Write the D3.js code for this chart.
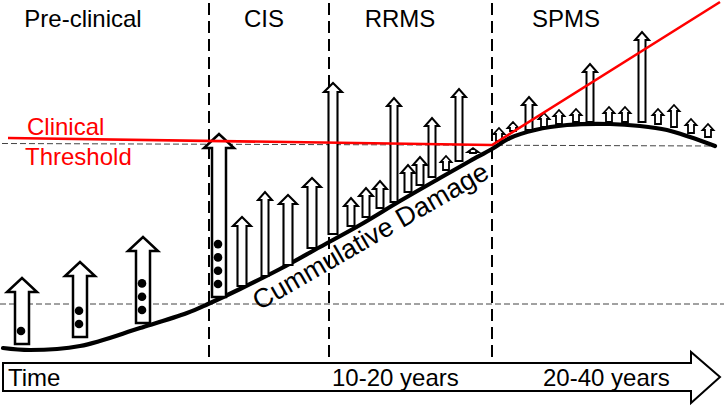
<!DOCTYPE html>
<html>
<head>
<meta charset="utf-8">
<script src="https://cdn.jsdelivr.net/npm/d3@7"></script>
<style>
  html, body { margin: 0; padding: 0; background: #fff; }
  svg { display: block; font-family: "Liberation Sans", Arial, sans-serif; }
</style>
</head>
<body>
<svg id="chart" width="724" height="406"></svg>
<script>
// ---------------- DATA ----------------
// Phases (time units) and names
const phaseNames = ["Pre-clinical", "CIS", "RRMS", "SPMS"];
const phaseBounds = [209, 329, 492];           // phase boundaries on the time axis
const phaseLabelT = [83, 264, 400, 566];       // where each phase name is centred

// Cumulative damage curve (time, damage level)
const damageT     = [3, 30, 80, 140, 187, 208, 240, 280, 320, 360, 400, 440, 470, 492, 510, 535, 567, 610, 640, 667, 690, 715];
const damageLevel = [2, 0, 4, 22, 37, 46, 61, 81, 103, 125, 149, 172, 189, 201, 212, 220, 225, 226, 224, 220, 213, 204];

// Clinical threshold (red line)
const thresholdT     = [8, 492, 720];
const thresholdLevel = [212, 205, 348];

// Reference (dashed) levels
const refLevels = [46, 206];

// Inflammatory activity arrows
const arrowT       = [22, 80, 143,  219, 242, 265, 288, 312,  333, 351, 366, 380, 394, 408, 420, 432, 446, 459, 473,  499, 513, 529, 544, 559, 576, 590, 609, 625, 642, 658, 674, 691, 708];
const arrowFrom    = [6, 13, 27,    53, 64, 74, 85, 102,      116, 124, 133, 142, 148, 158, 165, 173, 180, 189, 197,  209, 219, 220, 223, 226, 228, 228, 228, 228, 228, 226, 223, 217, 213];
const arrowTo      = [72, 88, 113,  216, 133, 158, 155, 172,  267, 152, 162, 169, 252, 185, 193, 232, 194, 261, 202,  222, 228, 253, 237, 240, 241, 286, 243, 243, 318, 241, 245, 231, 226];
const arrowLesions = [1, 2, 3,      4, 0, 0, 0, 0,            0, 0, 0, 0, 0, 0, 0, 0, 0, 0, 0,                        0, 0, 0, 0, 0, 0, 0, 0, 0, 0, 0, 0, 0, 0];
const arrowKind    = ["L","L","L",  "L","M","S","M","M",      "M","S","S","S","S","S","S","S","X","S","X",           "X","X","S","X","X","X","S","X","X","S","X","X","X","X"];

// Time axis labels
const timeLabels = ["Time", "10-20 years", "20-40 years"];
const timeLabelT = [8, 332, 543];

// ---------------- STYLE ----------------
const kindStyle = {
  L: { shaft: 14, head: 30, headH: 14, sw: 2.5 },
  M: { shaft: 9,  head: 18, headH: 9,  sw: 2.1 },
  S: { shaft: 7,  head: 14, headH: 8,  sw: 2.0 },
  X: { shaft: 6,  head: 11, headH: 6,  sw: 1.8 }
};

// ---------------- SCALES ----------------
const x = d3.scaleLinear().domain([0, 724]).range([0, 724]);
const y = d3.scaleLinear().domain([0, 350]).range([350, 0]);

const svg = d3.select("#chart");

// Time arrow (bottom)
const tb = { top: 363, bot: 391, left: 3, headX: 691, tip: 720, headTop: 352, headBot: 403 };
const mid = (tb.top + tb.bot) / 2;
svg.append("path")
  .attr("d", `M${tb.left},${tb.top} L${tb.headX},${tb.top} L${tb.headX},${tb.headTop} L${tb.tip},${mid} L${tb.headX},${tb.headBot} L${tb.headX},${tb.bot} L${tb.left},${tb.bot} Z`)
  .attr("fill", "#fff").attr("stroke", "#000").attr("stroke-width", 2);

svg.selectAll("text.time").data(timeLabels).join("text")
  .attr("class", "time")
  .attr("x", (d, i) => x(timeLabelT[i]))
  .attr("y", 386)
  .attr("font-size", 24)
  .attr("fill", "#000")
  .text(d => d);

// Reference dashed lines
svg.append("line")
  .attr("x1", x(0)).attr("x2", x(724))
  .attr("y1", y(refLevels[0])).attr("y2", y(refLevels[0]))
  .attr("stroke", "#444").attr("stroke-width", 1).attr("stroke-dasharray", "6,3");
svg.append("line")
  .attr("x1", x(2)).attr("x2", x(713))
  .attr("y1", y(refLevels[1]) - 0.5).attr("y2", y(refLevels[1]) + 2)
  .attr("stroke", "#444").attr("stroke-width", 1).attr("stroke-dasharray", "6,3");

// Phase boundaries
svg.selectAll("line.phase").data(phaseBounds).join("line")
  .attr("class", "phase")
  .attr("x1", d => x(d)).attr("x2", d => x(d))
  .attr("y1", 3).attr("y2", tb.top)
  .attr("stroke", "#000").attr("stroke-width", 2).attr("stroke-dasharray", "12,6");

// Phase names
svg.selectAll("text.phase").data(phaseNames).join("text")
  .attr("class", "phase")
  .attr("x", (d, i) => x(phaseLabelT[i]))
  .attr("y", 27)
  .attr("text-anchor", "middle")
  .attr("font-size", 24)
  .attr("fill", "#000")
  .text(d => d);

// Damage curve
const curvePts = damageT.map((t, i) => [x(t), y(damageLevel[i])]);
svg.append("path")
  .attr("d", d3.line().curve(d3.curveCatmullRom)(curvePts))
  .attr("fill", "none").attr("stroke", "#000").attr("stroke-width", 4.2).attr("stroke-linecap", "round");

// Arrows
const arrows = arrowT.map((t, i) => ({ t, from: arrowFrom[i], to: arrowTo[i], n: arrowLesions[i], k: kindStyle[arrowKind[i]] }));
const ag = svg.append("g");
arrows.forEach(a => {
  const cx = x(a.t), yb = y(a.from), yt = y(a.to);
  const hh = Math.min(a.k.headH, yb - yt - 1);
  const hb = yt + hh;
  const s = a.k.shaft / 2, h = a.k.head / 2;
  ag.append("path")
    .attr("d", `M${cx - s},${yb} L${cx - s},${hb} L${cx - h},${hb} L${cx},${yt} L${cx + h},${hb} L${cx + s},${hb} L${cx + s},${yb} Z`)
    .attr("fill", "#fff").attr("stroke", "#000").attr("stroke-width", a.k.sw).attr("stroke-linejoin", "miter");
  for (let j = 0; j < a.n; j++) {
    ag.append("circle")
      .attr("cx", cx - 1).attr("cy", yb - 13 - j * 13.3)
      .attr("r", 4.3).attr("fill", "#000");
  }
});

// Clinical threshold
svg.append("path")
  .attr("d", d3.line()(thresholdT.map((t, i) => [x(t), y(thresholdLevel[i])])))
  .attr("fill", "none").attr("stroke", "#ff0000").attr("stroke-width", 2.6);

svg.append("text").attr("x", 27).attr("y", 135).attr("font-size", 24).attr("fill", "#ff0000").text("Clinical");
svg.append("text").attr("x", 25).attr("y", 165).attr("font-size", 24).attr("fill", "#ff0000").text("Threshold");

// Curve label
svg.append("text")
  .attr("transform", "translate(375,244) rotate(-30)")
  .attr("text-anchor", "middle")
  .attr("font-size", 27)
  .attr("fill", "#000")
  .text("Cummulative Damage");
</script>
</body>
</html>
